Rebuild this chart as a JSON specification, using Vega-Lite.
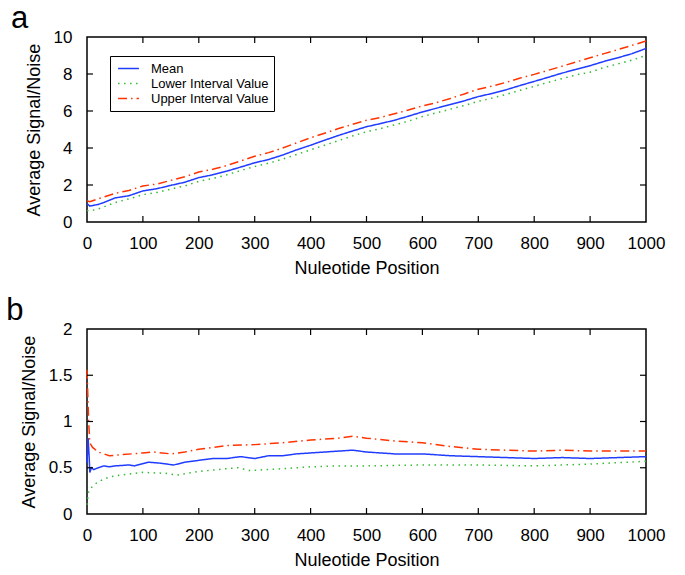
{
  "$schema": "https://vega.github.io/schema/vega-lite/v6.json",
  "background": "white",
  "padding": {"left": 5, "top": 2, "right": 5, "bottom": 5},
  "config": {
    "font": "Liberation Sans",
    "view": {"stroke": "black", "strokeWidth": 1.5},
    "axis": {"grid": false, "domain": false, "ticks": false, "tickSize": 0, "labelOverlap": false, "labelFontSize": 17, "labelColor": "black", "titleFontSize": 18, "titleFontWeight": "normal", "titleColor": "black", "labelFont": "Liberation Sans", "titleFont": "Liberation Sans"},
    "legend": {"strokeColor": "black", "fillColor": "white", "padding": 5, "labelFontSize": 13, "labelColor": "black", "symbolType": "M-1.6,0L1.6,0", "symbolSize": 170, "symbolStrokeWidth": 1.5, "symbolOffset": 6, "rowPadding": 0, "labelOffset": 15},
    "title": {"fontSize": 31, "fontWeight": "normal", "anchor": "start", "color": "black", "font": "Liberation Sans", "baseline": "alphabetic"},
    "concat": {"spacing": 16}
  },
  "datasets": {
    "a": [
      {"series": "Mean", "x": 0, "y": 1.0}, {"series": "Mean", "x": 5, "y": 0.86}, {"series": "Mean", "x": 20, "y": 0.95}, {"series": "Mean", "x": 30, "y": 1.05}, {"series": "Mean", "x": 50, "y": 1.3}, {"series": "Mean", "x": 75, "y": 1.42}, {"series": "Mean", "x": 100, "y": 1.68}, {"series": "Mean", "x": 125, "y": 1.8}, {"series": "Mean", "x": 150, "y": 1.98}, {"series": "Mean", "x": 175, "y": 2.15}, {"series": "Mean", "x": 200, "y": 2.4}, {"series": "Mean", "x": 225, "y": 2.55}, {"series": "Mean", "x": 250, "y": 2.75}, {"series": "Mean", "x": 275, "y": 2.97}, {"series": "Mean", "x": 300, "y": 3.2}, {"series": "Mean", "x": 325, "y": 3.38}, {"series": "Mean", "x": 350, "y": 3.62}, {"series": "Mean", "x": 375, "y": 3.9}, {"series": "Mean", "x": 400, "y": 4.15}, {"series": "Mean", "x": 425, "y": 4.42}, {"series": "Mean", "x": 450, "y": 4.68}, {"series": "Mean", "x": 475, "y": 4.92}, {"series": "Mean", "x": 500, "y": 5.15}, {"series": "Mean", "x": 525, "y": 5.32}, {"series": "Mean", "x": 550, "y": 5.5}, {"series": "Mean", "x": 575, "y": 5.72}, {"series": "Mean", "x": 600, "y": 5.95}, {"series": "Mean", "x": 625, "y": 6.15}, {"series": "Mean", "x": 650, "y": 6.35}, {"series": "Mean", "x": 675, "y": 6.55}, {"series": "Mean", "x": 700, "y": 6.78}, {"series": "Mean", "x": 725, "y": 6.95}, {"series": "Mean", "x": 750, "y": 7.15}, {"series": "Mean", "x": 775, "y": 7.38}, {"series": "Mean", "x": 800, "y": 7.6}, {"series": "Mean", "x": 825, "y": 7.82}, {"series": "Mean", "x": 850, "y": 8.05}, {"series": "Mean", "x": 875, "y": 8.25}, {"series": "Mean", "x": 900, "y": 8.45}, {"series": "Mean", "x": 925, "y": 8.68}, {"series": "Mean", "x": 950, "y": 8.88}, {"series": "Mean", "x": 975, "y": 9.1}, {"series": "Mean", "x": 1000, "y": 9.38},
      {"series": "Lower Interval Value", "x": 0, "y": 0.62}, {"series": "Lower Interval Value", "x": 5, "y": 0.6}, {"series": "Lower Interval Value", "x": 20, "y": 0.7}, {"series": "Lower Interval Value", "x": 50, "y": 1.05}, {"series": "Lower Interval Value", "x": 75, "y": 1.25}, {"series": "Lower Interval Value", "x": 100, "y": 1.48}, {"series": "Lower Interval Value", "x": 125, "y": 1.6}, {"series": "Lower Interval Value", "x": 150, "y": 1.78}, {"series": "Lower Interval Value", "x": 175, "y": 1.95}, {"series": "Lower Interval Value", "x": 200, "y": 2.2}, {"series": "Lower Interval Value", "x": 225, "y": 2.35}, {"series": "Lower Interval Value", "x": 250, "y": 2.55}, {"series": "Lower Interval Value", "x": 275, "y": 2.78}, {"series": "Lower Interval Value", "x": 300, "y": 3.0}, {"series": "Lower Interval Value", "x": 325, "y": 3.18}, {"series": "Lower Interval Value", "x": 350, "y": 3.4}, {"series": "Lower Interval Value", "x": 375, "y": 3.65}, {"series": "Lower Interval Value", "x": 400, "y": 3.9}, {"series": "Lower Interval Value", "x": 425, "y": 4.15}, {"series": "Lower Interval Value", "x": 450, "y": 4.4}, {"series": "Lower Interval Value", "x": 475, "y": 4.65}, {"series": "Lower Interval Value", "x": 500, "y": 4.88}, {"series": "Lower Interval Value", "x": 525, "y": 5.05}, {"series": "Lower Interval Value", "x": 550, "y": 5.25}, {"series": "Lower Interval Value", "x": 575, "y": 5.45}, {"series": "Lower Interval Value", "x": 600, "y": 5.7}, {"series": "Lower Interval Value", "x": 625, "y": 5.9}, {"series": "Lower Interval Value", "x": 650, "y": 6.1}, {"series": "Lower Interval Value", "x": 675, "y": 6.3}, {"series": "Lower Interval Value", "x": 700, "y": 6.52}, {"series": "Lower Interval Value", "x": 725, "y": 6.7}, {"series": "Lower Interval Value", "x": 750, "y": 6.9}, {"series": "Lower Interval Value", "x": 775, "y": 7.12}, {"series": "Lower Interval Value", "x": 800, "y": 7.33}, {"series": "Lower Interval Value", "x": 825, "y": 7.55}, {"series": "Lower Interval Value", "x": 850, "y": 7.75}, {"series": "Lower Interval Value", "x": 875, "y": 7.95}, {"series": "Lower Interval Value", "x": 900, "y": 8.1}, {"series": "Lower Interval Value", "x": 925, "y": 8.35}, {"series": "Lower Interval Value", "x": 950, "y": 8.55}, {"series": "Lower Interval Value", "x": 975, "y": 8.75}, {"series": "Lower Interval Value", "x": 1000, "y": 9.0},
      {"series": "Upper Interval Value", "x": 0, "y": 1.15}, {"series": "Upper Interval Value", "x": 5, "y": 1.1}, {"series": "Upper Interval Value", "x": 20, "y": 1.25}, {"series": "Upper Interval Value", "x": 50, "y": 1.55}, {"series": "Upper Interval Value", "x": 75, "y": 1.7}, {"series": "Upper Interval Value", "x": 100, "y": 1.95}, {"series": "Upper Interval Value", "x": 125, "y": 2.05}, {"series": "Upper Interval Value", "x": 150, "y": 2.25}, {"series": "Upper Interval Value", "x": 175, "y": 2.45}, {"series": "Upper Interval Value", "x": 200, "y": 2.7}, {"series": "Upper Interval Value", "x": 225, "y": 2.85}, {"series": "Upper Interval Value", "x": 250, "y": 3.05}, {"series": "Upper Interval Value", "x": 275, "y": 3.3}, {"series": "Upper Interval Value", "x": 300, "y": 3.55}, {"series": "Upper Interval Value", "x": 325, "y": 3.75}, {"series": "Upper Interval Value", "x": 350, "y": 4.0}, {"series": "Upper Interval Value", "x": 375, "y": 4.28}, {"series": "Upper Interval Value", "x": 400, "y": 4.55}, {"series": "Upper Interval Value", "x": 425, "y": 4.8}, {"series": "Upper Interval Value", "x": 450, "y": 5.05}, {"series": "Upper Interval Value", "x": 475, "y": 5.28}, {"series": "Upper Interval Value", "x": 500, "y": 5.5}, {"series": "Upper Interval Value", "x": 525, "y": 5.65}, {"series": "Upper Interval Value", "x": 550, "y": 5.85}, {"series": "Upper Interval Value", "x": 575, "y": 6.05}, {"series": "Upper Interval Value", "x": 600, "y": 6.28}, {"series": "Upper Interval Value", "x": 625, "y": 6.45}, {"series": "Upper Interval Value", "x": 650, "y": 6.68}, {"series": "Upper Interval Value", "x": 675, "y": 6.92}, {"series": "Upper Interval Value", "x": 700, "y": 7.18}, {"series": "Upper Interval Value", "x": 725, "y": 7.35}, {"series": "Upper Interval Value", "x": 750, "y": 7.55}, {"series": "Upper Interval Value", "x": 775, "y": 7.78}, {"series": "Upper Interval Value", "x": 800, "y": 7.98}, {"series": "Upper Interval Value", "x": 825, "y": 8.2}, {"series": "Upper Interval Value", "x": 850, "y": 8.42}, {"series": "Upper Interval Value", "x": 875, "y": 8.65}, {"series": "Upper Interval Value", "x": 900, "y": 8.88}, {"series": "Upper Interval Value", "x": 925, "y": 9.1}, {"series": "Upper Interval Value", "x": 950, "y": 9.32}, {"series": "Upper Interval Value", "x": 975, "y": 9.55}, {"series": "Upper Interval Value", "x": 1000, "y": 9.78}
    ],
    "b": [
      {"series": "Mean", "x": 0, "y": 0.55}, {"series": "Mean", "x": 2, "y": 0.82}, {"series": "Mean", "x": 4, "y": 0.6}, {"series": "Mean", "x": 5, "y": 0.45}, {"series": "Mean", "x": 8, "y": 0.5}, {"series": "Mean", "x": 12, "y": 0.48}, {"series": "Mean", "x": 20, "y": 0.5}, {"series": "Mean", "x": 30, "y": 0.52}, {"series": "Mean", "x": 40, "y": 0.51}, {"series": "Mean", "x": 50, "y": 0.52}, {"series": "Mean", "x": 75, "y": 0.53}, {"series": "Mean", "x": 85, "y": 0.52}, {"series": "Mean", "x": 110, "y": 0.56}, {"series": "Mean", "x": 130, "y": 0.55}, {"series": "Mean", "x": 155, "y": 0.53}, {"series": "Mean", "x": 175, "y": 0.56}, {"series": "Mean", "x": 200, "y": 0.58}, {"series": "Mean", "x": 225, "y": 0.6}, {"series": "Mean", "x": 250, "y": 0.6}, {"series": "Mean", "x": 275, "y": 0.62}, {"series": "Mean", "x": 300, "y": 0.6}, {"series": "Mean", "x": 325, "y": 0.63}, {"series": "Mean", "x": 350, "y": 0.63}, {"series": "Mean", "x": 375, "y": 0.65}, {"series": "Mean", "x": 400, "y": 0.66}, {"series": "Mean", "x": 425, "y": 0.67}, {"series": "Mean", "x": 450, "y": 0.68}, {"series": "Mean", "x": 475, "y": 0.69}, {"series": "Mean", "x": 500, "y": 0.67}, {"series": "Mean", "x": 525, "y": 0.66}, {"series": "Mean", "x": 550, "y": 0.65}, {"series": "Mean", "x": 600, "y": 0.65}, {"series": "Mean", "x": 650, "y": 0.63}, {"series": "Mean", "x": 700, "y": 0.62}, {"series": "Mean", "x": 750, "y": 0.61}, {"series": "Mean", "x": 800, "y": 0.6}, {"series": "Mean", "x": 850, "y": 0.61}, {"series": "Mean", "x": 900, "y": 0.6}, {"series": "Mean", "x": 950, "y": 0.61}, {"series": "Mean", "x": 1000, "y": 0.62},
      {"series": "Lower Interval Value", "x": 0, "y": 0.1}, {"series": "Lower Interval Value", "x": 3, "y": 0.25}, {"series": "Lower Interval Value", "x": 10, "y": 0.3}, {"series": "Lower Interval Value", "x": 20, "y": 0.35}, {"series": "Lower Interval Value", "x": 40, "y": 0.4}, {"series": "Lower Interval Value", "x": 60, "y": 0.42}, {"series": "Lower Interval Value", "x": 100, "y": 0.45}, {"series": "Lower Interval Value", "x": 140, "y": 0.44}, {"series": "Lower Interval Value", "x": 160, "y": 0.42}, {"series": "Lower Interval Value", "x": 200, "y": 0.46}, {"series": "Lower Interval Value", "x": 250, "y": 0.49}, {"series": "Lower Interval Value", "x": 270, "y": 0.5}, {"series": "Lower Interval Value", "x": 290, "y": 0.47}, {"series": "Lower Interval Value", "x": 350, "y": 0.49}, {"series": "Lower Interval Value", "x": 400, "y": 0.51}, {"series": "Lower Interval Value", "x": 450, "y": 0.52}, {"series": "Lower Interval Value", "x": 500, "y": 0.52}, {"series": "Lower Interval Value", "x": 600, "y": 0.53}, {"series": "Lower Interval Value", "x": 700, "y": 0.53}, {"series": "Lower Interval Value", "x": 800, "y": 0.52}, {"series": "Lower Interval Value", "x": 900, "y": 0.54}, {"series": "Lower Interval Value", "x": 1000, "y": 0.57},
      {"series": "Upper Interval Value", "x": 0, "y": 1.56}, {"series": "Upper Interval Value", "x": 3, "y": 1.0}, {"series": "Upper Interval Value", "x": 5, "y": 0.77}, {"series": "Upper Interval Value", "x": 10, "y": 0.72}, {"series": "Upper Interval Value", "x": 20, "y": 0.67}, {"series": "Upper Interval Value", "x": 40, "y": 0.63}, {"series": "Upper Interval Value", "x": 60, "y": 0.64}, {"series": "Upper Interval Value", "x": 80, "y": 0.65}, {"series": "Upper Interval Value", "x": 100, "y": 0.66}, {"series": "Upper Interval Value", "x": 120, "y": 0.67}, {"series": "Upper Interval Value", "x": 150, "y": 0.65}, {"series": "Upper Interval Value", "x": 175, "y": 0.67}, {"series": "Upper Interval Value", "x": 200, "y": 0.7}, {"series": "Upper Interval Value", "x": 225, "y": 0.72}, {"series": "Upper Interval Value", "x": 250, "y": 0.74}, {"series": "Upper Interval Value", "x": 300, "y": 0.75}, {"series": "Upper Interval Value", "x": 350, "y": 0.77}, {"series": "Upper Interval Value", "x": 400, "y": 0.8}, {"series": "Upper Interval Value", "x": 450, "y": 0.82}, {"series": "Upper Interval Value", "x": 475, "y": 0.84}, {"series": "Upper Interval Value", "x": 500, "y": 0.82}, {"series": "Upper Interval Value", "x": 550, "y": 0.79}, {"series": "Upper Interval Value", "x": 600, "y": 0.77}, {"series": "Upper Interval Value", "x": 650, "y": 0.73}, {"series": "Upper Interval Value", "x": 700, "y": 0.7}, {"series": "Upper Interval Value", "x": 750, "y": 0.69}, {"series": "Upper Interval Value", "x": 800, "y": 0.68}, {"series": "Upper Interval Value", "x": 850, "y": 0.69}, {"series": "Upper Interval Value", "x": 900, "y": 0.68}, {"series": "Upper Interval Value", "x": 950, "y": 0.68}, {"series": "Upper Interval Value", "x": 1000, "y": 0.68}
    ],
    "ticks_a": [
      {"edge": "bottom", "x": 100, "y": 0}, {"edge": "bottom", "x": 200, "y": 0}, {"edge": "bottom", "x": 300, "y": 0}, {"edge": "bottom", "x": 400, "y": 0}, {"edge": "bottom", "x": 500, "y": 0}, {"edge": "bottom", "x": 600, "y": 0}, {"edge": "bottom", "x": 700, "y": 0}, {"edge": "bottom", "x": 800, "y": 0}, {"edge": "bottom", "x": 900, "y": 0},
      {"edge": "top", "x": 100, "y": 10}, {"edge": "top", "x": 200, "y": 10}, {"edge": "top", "x": 300, "y": 10}, {"edge": "top", "x": 400, "y": 10}, {"edge": "top", "x": 500, "y": 10}, {"edge": "top", "x": 600, "y": 10}, {"edge": "top", "x": 700, "y": 10}, {"edge": "top", "x": 800, "y": 10}, {"edge": "top", "x": 900, "y": 10},
      {"edge": "left", "x": 0, "y": 2}, {"edge": "left", "x": 0, "y": 4}, {"edge": "left", "x": 0, "y": 6}, {"edge": "left", "x": 0, "y": 8},
      {"edge": "right", "x": 1000, "y": 2}, {"edge": "right", "x": 1000, "y": 4}, {"edge": "right", "x": 1000, "y": 6}, {"edge": "right", "x": 1000, "y": 8}
    ],
    "ticks_b": [
      {"edge": "bottom", "x": 100, "y": 0}, {"edge": "bottom", "x": 200, "y": 0}, {"edge": "bottom", "x": 300, "y": 0}, {"edge": "bottom", "x": 400, "y": 0}, {"edge": "bottom", "x": 500, "y": 0}, {"edge": "bottom", "x": 600, "y": 0}, {"edge": "bottom", "x": 700, "y": 0}, {"edge": "bottom", "x": 800, "y": 0}, {"edge": "bottom", "x": 900, "y": 0},
      {"edge": "top", "x": 100, "y": 2}, {"edge": "top", "x": 200, "y": 2}, {"edge": "top", "x": 300, "y": 2}, {"edge": "top", "x": 400, "y": 2}, {"edge": "top", "x": 500, "y": 2}, {"edge": "top", "x": 600, "y": 2}, {"edge": "top", "x": 700, "y": 2}, {"edge": "top", "x": 800, "y": 2}, {"edge": "top", "x": 900, "y": 2},
      {"edge": "left", "x": 0, "y": 0.5}, {"edge": "left", "x": 0, "y": 1}, {"edge": "left", "x": 0, "y": 1.5},
      {"edge": "right", "x": 1000, "y": 0.5}, {"edge": "right", "x": 1000, "y": 1}, {"edge": "right", "x": 1000, "y": 1.5}
    ]
  },
  "vconcat": [
    {
      "title": {"text": "a", "dx": -14, "offset": -7},
      "width": 559,
      "height": 185,
      "layer": [
        {
          "data": {"name": "a"},
          "mark": {"type": "line", "strokeWidth": 1.5},
          "encoding": {
            "x": {"field": "x", "type": "quantitative", "scale": {"domain": [0, 1000], "nice": false}, "axis": {"title": "Nuleotide Position", "values": [0,100,200,300,400,500,600,700,800,900,1000], "format": "d", "labelPadding": 13, "titlePadding": 8, "labelFlush": false}},
            "y": {"field": "y", "type": "quantitative", "scale": {"domain": [0, 10], "nice": false}, "axis": {"title": "Average Signal/Noise", "values": [0,2,4,6,8,10], "format": "d", "labelPadding": 15, "titlePadding": 10, "labelFlush": false}},
            "color": {"field": "series", "type": "nominal", "scale": {"domain": ["Mean", "Lower Interval Value", "Upper Interval Value"], "range": ["#1f3cff", "#33bb33", "#ff3300"]}, "legend": {"title": null, "orient": "none", "legendX": 23, "legendY": 19}},
            "strokeDash": {"field": "series", "type": "nominal", "scale": {"domain": ["Mean", "Lower Interval Value", "Upper Interval Value"], "range": [[1, 0], [1.5, 4.5], [9, 4, 1.5, 4]]}, "legend": {"title": null, "orient": "none", "legendX": 23, "legendY": 19}}
          }
        },
        {
          "data": {"name": "ticks_a"},
          "mark": {"type": "point", "filled": false, "stroke": "black", "strokeWidth": 1.2, "opacity": 1, "size": 144},
          "encoding": {
            "x": {"field": "x", "type": "quantitative", "scale": {"domain": [0, 1000], "nice": false}, "axis": {"title": "Nuleotide Position", "values": [0,100,200,300,400,500,600,700,800,900,1000], "format": "d", "labelPadding": 13, "titlePadding": 8, "labelFlush": false}},
            "y": {"field": "y", "type": "quantitative", "scale": {"domain": [0, 10], "nice": false}, "axis": {"title": "Average Signal/Noise", "values": [0,2,4,6,8,10], "format": "d", "labelPadding": 15, "titlePadding": 10, "labelFlush": false}},
            "shape": {"field": "edge", "type": "nominal", "scale": {"domain": ["bottom", "top", "left", "right"], "range": ["M0,-1L0,0", "M0,0L0,1", "M0,0L1,0", "M-1,0L0,0"]}, "legend": null}
          }
        }
      ]
    },
    {
      "title": {"text": "b", "dx": -14, "offset": -7},
      "width": 559,
      "height": 185,
      "layer": [
        {
          "data": {"name": "b"},
          "mark": {"type": "line", "strokeWidth": 1.5},
          "encoding": {
            "x": {"field": "x", "type": "quantitative", "scale": {"domain": [0, 1000], "nice": false}, "axis": {"title": "Nuleotide Position", "values": [0,100,200,300,400,500,600,700,800,900,1000], "format": "d", "labelPadding": 13, "titlePadding": 8, "labelFlush": false}},
            "y": {"field": "y", "type": "quantitative", "scale": {"domain": [0, 2], "nice": false}, "axis": {"title": "Average Signal/Noise", "values": [0,0.5,1,1.5,2], "format": "~g", "labelPadding": 15, "titlePadding": 10, "labelFlush": false}},
            "color": {"field": "series", "type": "nominal", "scale": {"domain": ["Mean", "Lower Interval Value", "Upper Interval Value"], "range": ["#1f3cff", "#33bb33", "#ff3300"]}, "legend": {"title": null, "orient": "none", "legendX": 25, "legendY": 21}},
            "strokeDash": {"field": "series", "type": "nominal", "scale": {"domain": ["Mean", "Lower Interval Value", "Upper Interval Value"], "range": [[1, 0], [1.5, 4.5], [9, 4, 1.5, 4]]}, "legend": {"title": null, "orient": "none", "legendX": 25, "legendY": 21}}
          }
        },
        {
          "data": {"name": "ticks_b"},
          "mark": {"type": "point", "filled": false, "stroke": "black", "strokeWidth": 1.2, "opacity": 1, "size": 144},
          "encoding": {
            "x": {"field": "x", "type": "quantitative", "scale": {"domain": [0, 1000], "nice": false}, "axis": {"title": "Nuleotide Position", "values": [0,100,200,300,400,500,600,700,800,900,1000], "format": "d", "labelPadding": 13, "titlePadding": 8, "labelFlush": false}},
            "y": {"field": "y", "type": "quantitative", "scale": {"domain": [0, 2], "nice": false}, "axis": {"title": "Average Signal/Noise", "values": [0,0.5,1,1.5,2], "format": "~g", "labelPadding": 15, "titlePadding": 10, "labelFlush": false}},
            "shape": {"field": "edge", "type": "nominal", "scale": {"domain": ["bottom", "top", "left", "right"], "range": ["M0,-1L0,0", "M0,0L0,1", "M0,0L1,0", "M-1,0L0,0"]}, "legend": null}
          }
        }
      ]
    }
  ]
}
